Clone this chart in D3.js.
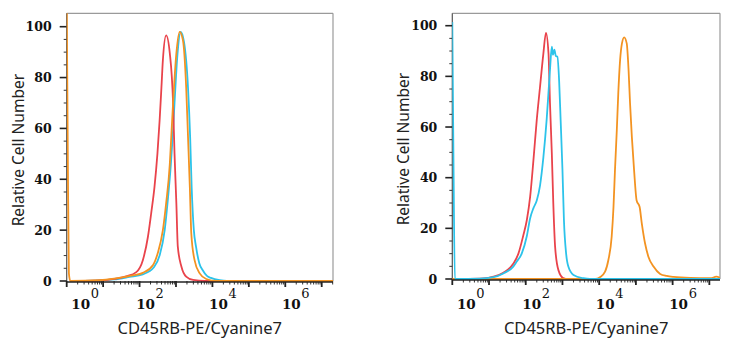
<!DOCTYPE html>
<html>
<head>
<meta charset="utf-8">
<script src="https://cdn.jsdelivr.net/npm/d3@7"></script>
<style>
    body { margin: 0; background: #fff; }
    svg { display: block; }
    .axis-title { font-family: "Noto Sans", "Open Sans", sans-serif; fill: #222; }
</style>
</head>
<body>
<div id="chart"></div>
<script>
// x values are log10 of the fluorescence intensity, y is relative cell number
const leftRed = [[0.3,0],[0.9,0.2],[1.31,0.8],[1.63,1.8],[1.91,3.5],[2.09,8.2],[2.23,17.4],[2.32,26.7],
    [2.41,37],[2.49,50],[2.55,63],[2.60,76],[2.64,86.8],[2.73,96.6],[2.83,89.6],[2.92,70],[2.96,50],
    [3.01,30.6],[3.05,13.5],[3.15,5.6],[3.28,1.7],[3.47,0.4],[3.79,0],[7.31,0]];
const leftCyan = [[0.3,0],[0.9,0.2],[1.3,0.6],[1.72,1.6],[2.09,2.6],[2.4,5.5],[2.55,10],[2.69,20],
    [2.77,31],[2.86,46],[2.91,57],[2.96,70],[3.04,89],[3.13,98],[3.22,94],[3.33,76],[3.39,56],[3.43,37],
    [3.49,20],[3.55,13.5],[3.64,7],[3.73,4.3],[3.85,2],[3.96,1.2],[4.2,0.3],[4.4,0],[7.31,0]];
const leftOrange = [[0,112],[0.03,50],[0.06,3],[0.1,0],[0.9,0.3],[1.3,0.9],[1.6,1.6],[1.82,2.2],
    [2.09,3.2],[2.37,6.3],[2.5,11],[2.64,20],[2.73,30.6],[2.83,46],[2.87,56.7],[2.92,70],[3.01,89.5],
    [3.1,98],[3.19,94.7],[3.28,76],[3.33,56.7],[3.38,37],[3.42,18.8],[3.51,8.2],[3.65,3],[3.83,0.8],
    [4.11,0],[7.31,0]];

const rightRed = [[0.3,0],[0.84,0.2],[1.12,0.9],[1.39,2.5],[1.66,6],[1.8,10],[1.93,17],[2.03,23.3],
    [2.12,32.5],[2.21,47],[2.3,62.8],[2.39,76],[2.48,89],[2.55,97.2],[2.62,89],[2.66,69.5],[2.71,49.7],
    [2.75,30],[2.8,12.7],[2.89,3.5],[3.02,0.4],[3.15,0],[7.29,0]];
const rightCyan = [[0,101.5],[0.03,50],[0.07,0],[0.75,0.1],[1.12,0.7],[1.39,2.2],[1.66,4.9],[1.75,6.8],
    [1.89,10],[2.03,17],[2.12,24],[2.21,28],[2.3,31],[2.39,37],[2.48,48],[2.57,63],[2.66,82.5],[2.71,91.7],
    [2.74,88.5],[2.78,90.5],[2.82,88],[2.86,87.8],[2.91,78],[2.95,62.8],[3.0,43],[3.04,23.3],[3.1,10],
    [3.16,4.9],[3.3,1.6],[3.57,0.3],[3.75,0],[7.29,0]];
const rightOrange = [[0,0],[3.89,0],[4.02,0.7],[4.16,2.9],[4.25,7.5],[4.34,16.7],[4.39,28.5],[4.43,43],
    [4.48,58.8],[4.52,73.3],[4.57,86.5],[4.62,93],[4.68,95.4],[4.75,93],[4.8,82.5],[4.84,69.5],[4.89,56],
    [4.95,43],[5.02,31],[5.1,28.5],[5.16,22],[5.25,14],[5.34,8.8],[5.48,4.9],[5.66,2],[5.84,1.2],
    [6.02,0.8],[6.48,0.4],[7.03,0.3],[7.19,0.9],[7.29,0.5]];

const yTicks = [0, 20, 40, 60, 80, 100];
const xDecades = [0, 1, 2, 3, 4, 5, 6, 7];
const xLabelDecades = [0, 2, 4, 6];
const xTitle = 'CD45RB-PE/Cyanine7';
const yTitle = 'Relative Cell Number';

const colors = { red: '#e9434b', cyan: '#2cc3ea', orange: '#f39322' };
const serif = "'DejaVu Serif', 'Liberation Serif', serif";

document.addEventListener('DOMContentLoaded', function () {
    const svg = d3.select('#chart').append('svg')
        .attr('width', 733)
        .attr('height', 350);

    const panels = [
        { id: 'left', left: 66.7, right: 333, top: 13.3, zero: 281, hundred: 26.7, maxLog: 7.31,
          series: [['cyan', leftCyan], ['red', leftRed], ['orange', leftOrange]] },
        { id: 'right', left: 452.3, right: 720, top: 13.3, zero: 279, hundred: 25.7, maxLog: 7.29,
          series: [['red', rightRed], ['orange', rightOrange], ['cyan', rightCyan]] }
    ];

    panels.forEach(p => drawPanel(p));

    function drawPanel(p) {
        const x = d3.scaleLog().domain([1, Math.pow(10, p.maxLog)]).range([p.left, p.right]);
        const y = d3.scaleLinear().domain([0, 100]).range([p.zero, p.hundred]);
        const g = svg.append('g');

        g.append('clipPath').attr('id', 'clip-' + p.id)
            .append('rect')
            .attr('x', p.left).attr('y', p.top)
            .attr('width', p.right - p.left).attr('height', p.zero - p.top + 2);

        // frame: grey top/right, dark left/bottom
        g.append('line').attr('x1', p.left).attr('x2', p.right).attr('y1', p.top).attr('y2', p.top)
            .attr('stroke', '#9a9a9a').attr('stroke-width', 1.2);
        g.append('line').attr('x1', p.right).attr('x2', p.right).attr('y1', p.top).attr('y2', p.zero)
            .attr('stroke', '#9a9a9a').attr('stroke-width', 1.2);
        g.append('line').attr('x1', p.left).attr('x2', p.left).attr('y1', p.top).attr('y2', p.zero)
            .attr('stroke', '#555').attr('stroke-width', 1.2);

        // y ticks, major every 20 and minor every 5
        const yMinor = d3.range(5, 101, 5).filter(v => v % 20 !== 0);
        g.selectAll('.ymin').data(yMinor).enter().append('line')
            .attr('x1', p.left - 3).attr('x2', p.left)
            .attr('y1', d => y(d)).attr('y2', d => y(d))
            .attr('stroke', '#333').attr('stroke-width', 1);
        g.selectAll('.ymaj').data(yTicks).enter().append('line')
            .attr('x1', p.left - 7).attr('x2', p.left)
            .attr('y1', d => y(d)).attr('y2', d => y(d))
            .attr('stroke', '#222').attr('stroke-width', 1.6);
        g.selectAll('.ylab').data(yTicks).enter().append('text')
            .attr('x', p.left - 15)
            .attr('y', d => y(d) + 4.5)
            .attr('text-anchor', 'end')
            .attr('font-family', serif)
            .attr('font-weight', 'bold')
            .attr('font-size', 12.5)
            .attr('fill', '#111')
            .text(d => d);

        // x ticks on the log axis
        const minor = [];
        xDecades.forEach(e => {
            for (let k = 2; k <= 9; k++) {
                const v = k * Math.pow(10, e);
                if (v < x.domain()[1]) minor.push(v);
            }
        });
        g.selectAll('.xmin').data(minor).enter().append('line')
            .attr('x1', d => x(d)).attr('x2', d => x(d))
            .attr('y1', p.zero).attr('y2', p.zero + 3.5)
            .attr('stroke', '#333').attr('stroke-width', 1);
        g.selectAll('.xmaj').data(xDecades).enter().append('line')
            .attr('x1', d => x(Math.pow(10, d))).attr('x2', d => x(Math.pow(10, d)))
            .attr('y1', p.zero).attr('y2', p.zero + 6)
            .attr('stroke', '#222').attr('stroke-width', 1.8);

        const labels = g.selectAll('.xlab').data(xLabelDecades).enter().append('g');
        const labelX = d => Math.max(x(Math.pow(10, d)) + 6, p.left + 14);
        labels.append('text')
            .attr('x', labelX)
            .attr('y', 309)
            .attr('text-anchor', 'middle')
            .attr('font-family', serif)
            .attr('font-weight', 'bold')
            .attr('font-size', 13.5)
            .attr('fill', '#111')
            .text('10');
        labels.append('text')
            .attr('x', d => labelX(d) + 10)
            .attr('y', 298)
            .attr('font-family', serif)
            .attr('font-size', 13)
            .attr('fill', '#111')
            .text(d => d);

        // histogram lines
        const line = d3.line()
            .x(d => x(Math.pow(10, d[0])))
            .y(d => y(d[1]))
            .curve(d3.curveMonotoneX);

        g.append('g').attr('clip-path', `url(#clip-${p.id})`)
            .selectAll('path')
            .data(p.series)
            .enter().append('path')
            .attr('d', d => line(d[1]))
            .attr('fill', 'none')
            .attr('stroke', d => colors[d[0]])
            .attr('stroke-width', 1.8)
            .attr('stroke-linejoin', 'round');

        // bottom axis line on top of baseline
        g.append('line').attr('x1', p.left).attr('x2', p.right).attr('y1', p.zero + 1).attr('y2', p.zero + 1)
            .attr('stroke', '#222').attr('stroke-width', 1.4);

        // titles
        g.append('text')
            .attr('class', 'axis-title')
            .attr('x', (p.left + p.right) / 2)
            .attr('y', 334)
            .attr('text-anchor', 'middle')
            .attr('font-size', 16.5)
            .text(xTitle);
        g.append('text')
            .attr('class', 'axis-title')
            .attr('transform', `translate(${p.left - 43},${(p.top + p.zero) / 2 + 3}) rotate(-90)`)
            .attr('text-anchor', 'middle')
            .attr('font-size', 15.5)
            .text(yTitle);
    }
});
</script>
</body>
</html>
